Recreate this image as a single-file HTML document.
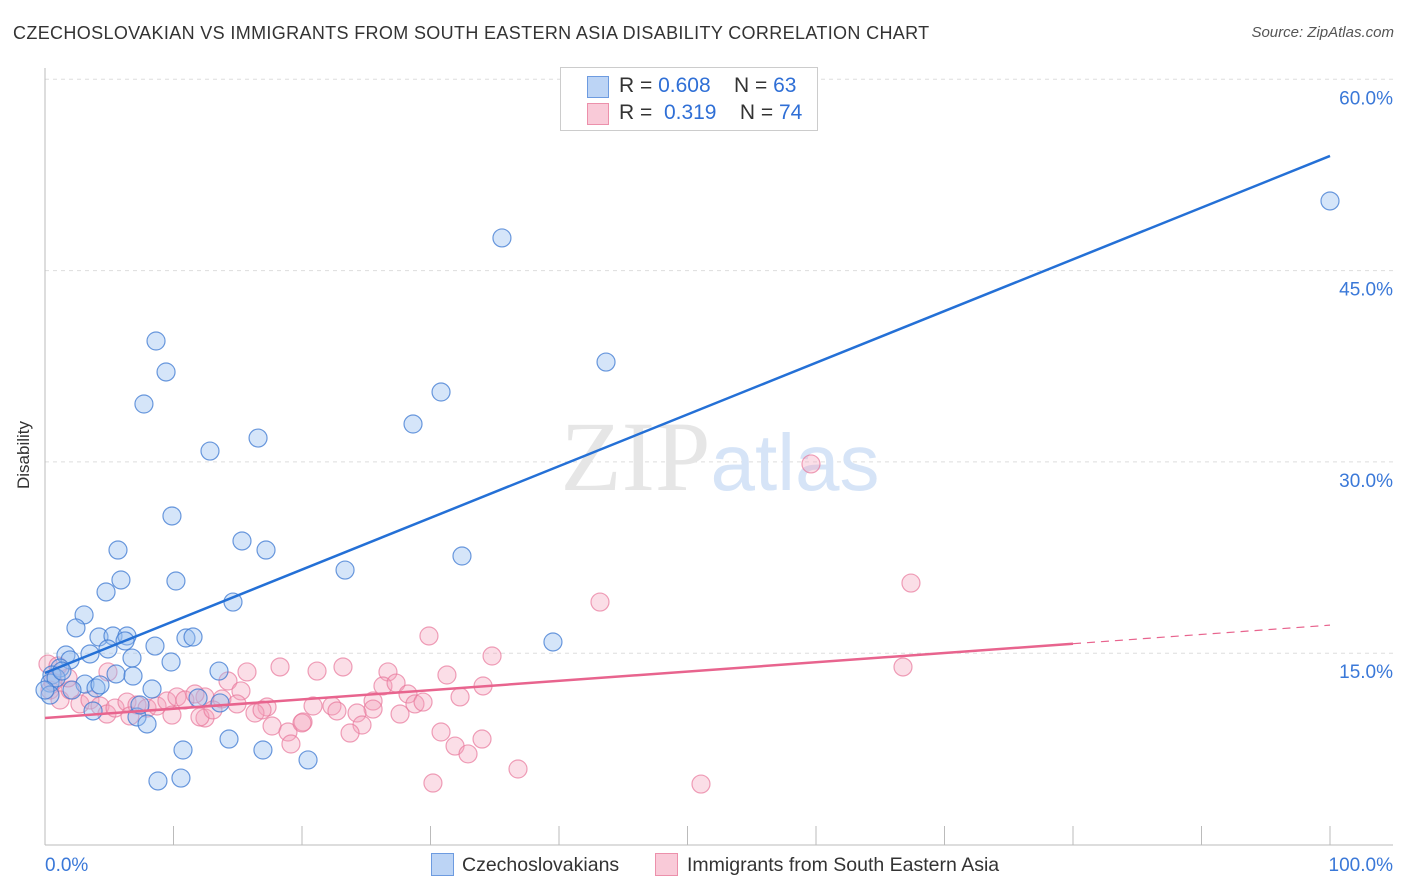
<!DOCTYPE html>
<html><head><meta charset="utf-8"><style>
body{margin:0;background:#fff;font-family:"Liberation Sans",sans-serif;}
#wrap{position:relative;width:1406px;height:892px;overflow:hidden;}
.t{position:absolute;white-space:nowrap;}
</style></head><body>
<div id="wrap">
<div class="t" style="left:13px;top:23px;font-size:18px;color:#333;letter-spacing:0.35px;">CZECHOSLOVAKIAN VS IMMIGRANTS FROM SOUTH EASTERN ASIA DISABILITY CORRELATION CHART</div>
<div class="t" style="right:12px;top:24px;font-size:15px;color:#555;font-style:italic;">Source: ZipAtlas.com</div>
<div class="t" style="left:-10px;top:445px;font-size:17px;color:#333;transform:rotate(-90deg);">Disability</div>
<svg id="svg" width="1406" height="892" style="position:absolute;left:0;top:0"></svg>
<div style="position:absolute;left:560px;top:67px;width:256px;height:62px;border:1px solid #ccc;background:#fff;font-size:21px;">
 <div style="position:absolute;left:26px;top:8px;width:20px;height:20px;background:#bcd4f5;border:1px solid #6d9be0;"></div>
 <div class="t" style="left:58px;top:6px;color:#333;">R = <span style="color:#2f6fd6">0.608</span>&nbsp;&nbsp;&nbsp; N = <span style="color:#2f6fd6">63</span></div>
 <div style="position:absolute;left:26px;top:35px;width:20px;height:20px;background:#f9cad8;border:1px solid #ec90ab;"></div>
 <div class="t" style="left:58px;top:33px;color:#333;">R = &nbsp;<span style="color:#2f6fd6">0.319</span>&nbsp;&nbsp;&nbsp; N = <span style="color:#2f6fd6">74</span></div>
</div>
<div>
 <div style="position:absolute;left:431px;top:853px;width:21px;height:21px;background:#bcd4f5;border:1px solid #6d9be0;"></div>
 <div class="t" style="left:462px;top:854px;font-size:19.5px;color:#333;">Czechoslovakians</div>
 <div style="position:absolute;left:655px;top:853px;width:21px;height:21px;background:#f9cad8;border:1px solid #ec90ab;"></div>
 <div class="t" style="left:687px;top:854px;font-size:19.5px;color:#333;">Immigrants from South Eastern Asia</div>
</div>
</div>
<script>
const yTicks=[15,30,45,60];
const yTickLabels=["15.0%","30.0%","45.0%","60.0%"];
const xTickLabels=["0.0%","100.0%"];
const bluePx=[[1330,201],[502,238],[606,362],[156,341],[166,372],[144,404],[441,392],[413,424],[258,438],[210,451],[172,516],[242,541],[118,550],[266,550],[462,556],[345,570],[121,580],[176,581],[106,592],[233,602],[84,615],[76,628],[553,642],[99,637],[113,636],[127,636],[125,641],[155,646],[186,638],[193,637],[108,649],[90,654],[66,655],[70,660],[132,658],[171,662],[219,671],[60,668],[52,675],[116,674],[133,676],[50,683],[85,684],[96,688],[152,689],[198,698],[220,703],[137,717],[147,724],[93,711],[183,750],[229,739],[263,750],[308,760],[158,781],[181,778],[50,695],[56,678],[62,671],[45,690],[140,705],[100,685],[72,690]];
const pinkPx=[[429,636],[492,656],[247,672],[280,667],[317,671],[343,667],[388,672],[447,675],[228,681],[241,691],[383,686],[396,683],[408,694],[483,686],[460,697],[205,697],[222,699],[237,704],[267,707],[255,713],[262,710],[313,706],[332,706],[337,711],[373,701],[373,709],[357,713],[415,704],[423,702],[400,714],[205,718],[272,726],[288,732],[303,722],[302,723],[362,725],[350,733],[291,744],[441,732],[455,746],[468,754],[482,739],[518,769],[433,783],[600,602],[811,464],[911,583],[903,667],[701,784],[48,664],[50,690],[60,700],[70,690],[80,704],[90,700],[100,706],[107,714],[115,708],[127,702],[137,705],[147,708],[157,706],[167,701],[177,697],[185,700],[195,694],[172,715],[200,717],[213,710],[108,672],[68,678],[53,682],[130,716],[58,666]];
const blueX=bluePx.map(p=>+((p[0]-45)/12.85).toFixed(2));
const blueY=bluePx.map(p=>+((844.5-p[1])/191.3*15).toFixed(2));
const pinkX=pinkPx.map(p=>+((p[0]-45)/12.85).toFixed(2));
const pinkY=pinkPx.map(p=>+((844.5-p[1])/191.3*15).toFixed(2));
const blueTrend=[13.45,53.99];
const pinkTrend=[9.92,17.2];
const pinkSolidEnd=80;

const X=v=>45+v*12.85, Y=v=>844.5-v/15*191.3;
const svg=document.getElementById('svg');const NS='http://www.w3.org/2000/svg';
function mk(tag,attrs){const e=document.createElementNS(NS,tag);for(const k in attrs)e.setAttribute(k,attrs[k]);svg.appendChild(e);return e;}
yTicks.forEach((t,i)=>{
 const g=mk('line',{x1:45,x2:1393,y1:Y(t),y2:Y(t),stroke:'#ddd','stroke-dasharray':'4,4'});
 
 
 const l=mk('text',{x:1393,y:Y(t)+25,'text-anchor':'end','font-size':19,fill:'#3a78d8','font-family':'Liberation Sans, sans-serif'});
 l.textContent=yTickLabels[i];
 
 
});
const ax=mk('line',{x1:45,x2:1393,y1:845,y2:845,stroke:'#bbb'});


const ay=mk('line',{x1:45,x2:45,y1:68,y2:845,stroke:'#bbb'});


for(let i=0;i<=10;i++){const t=mk('line',{x1:X(i*10),x2:X(i*10),y1:826,y2:845,stroke:'#bbb'});
 
 }
[[0,'start',45],[100,'end',1393]].forEach((d,i)=>{const l=mk('text',{x:d[2],y:871,'text-anchor':d[1],'font-size':19,fill:'#3a78d8','font-family':'Liberation Sans, sans-serif'});l.textContent=xTickLabels[i];
 
 });
const wm=mk('text',{x:720,y:490,'text-anchor':'middle','font-size':100,'font-family':'Liberation Serif, serif',fill:'#e6e6e6'});
wm.innerHTML='ZIP<tspan fill="#d6e4f7" font-family="Liberation Sans, sans-serif" font-size="80">atlas</tspan>';


pinkX.forEach((x,i)=>{const c=mk('circle',{cx:X(x),cy:Y(pinkY[i]),r:9,fill:'rgba(244,160,185,0.35)',stroke:'rgba(232,120,155,0.7)','stroke-width':1.2});
 
 });
blueX.forEach((x,i)=>{const c=mk('circle',{cx:X(x),cy:Y(blueY[i]),r:9,fill:'rgba(150,190,240,0.4)',stroke:'rgba(60,120,210,0.75)','stroke-width':1.2});
 
 });
const bt=mk('line',{x1:X(0),y1:Y(blueTrend[0]),x2:X(100),y2:Y(blueTrend[1]),stroke:'#2470d6','stroke-width':2.5});


const pm=pinkTrend[0]+(pinkTrend[1]-pinkTrend[0])*pinkSolidEnd/100;
const pt=mk('line',{x1:X(0),y1:Y(pinkTrend[0]),x2:X(pinkSolidEnd),y2:Y(pm),stroke:'#e8648e','stroke-width':2.5});


const pd=mk('line',{x1:X(pinkSolidEnd),y1:Y(pm),x2:X(100),y2:Y(pinkTrend[1]),stroke:'#e8648e','stroke-width':1.2,'stroke-dasharray':'8,6'});


</script>
</body></html>
